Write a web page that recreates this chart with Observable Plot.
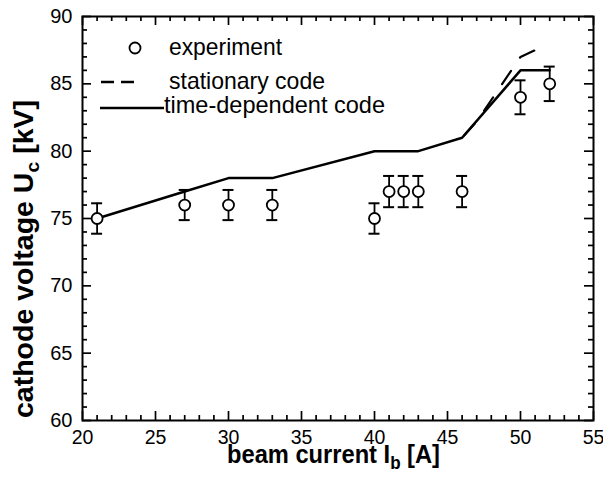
<!DOCTYPE html>
<html><head><meta charset="utf-8">
<script src="https://cdn.jsdelivr.net/npm/d3@7"></script>
<script src="https://cdn.jsdelivr.net/npm/@observablehq/plot@0.6"></script>
<style>
body{margin:0;background:#fff}
svg{font-family:"Liberation Sans",Arial,Helvetica,sans-serif}
</style>
</head><body><div id="chart"></div>
<script>
// experiment
const expCurrent = [21, 27, 30, 33, 40, 41, 42, 43, 46, 50, 52];
const expVoltage = [75, 76, 76, 76, 75, 77, 77, 77, 77, 84, 85];
const expError   = [1.13, 1.12, 1.12, 1.12, 1.13, 1.16, 1.16, 1.16, 1.16, 1.26, 1.28];
// time-dependent code
const timeCurrent = [21, 27, 30, 33, 40, 43, 46, 50, 52];
const timeVoltage = [75, 77, 78, 78, 80, 80, 81, 86, 86];
// stationary code
const statCurrent = [46, 47, 48, 50, 51];
const statVoltage = [81, 82.2, 83.8, 87, 87.5];
// axes
const xTicks = [20, 25, 30, 35, 40, 45, 50, 55];
const yTicks = [60, 65, 70, 75, 80, 85, 90];
const xMinor = [21, 22, 23, 24, 26, 27, 28, 29, 31, 32, 33, 34, 36, 37, 38, 39, 41, 42, 43, 44, 46, 47, 48, 49, 51, 52, 53, 54];
const yMinor = [61, 62, 63, 64, 66, 67, 68, 69, 71, 72, 73, 74, 76, 77, 78, 79, 81, 82, 83, 84, 86, 87, 88, 89];
const xLabel = ["beam current I", "b", " [A]"];
const yLabel = ["cathode voltage U", "c", " [kV]"];
const legendLabels = ["experiment", "stationary code", "time-dependent code"];

const exp = expCurrent.map((x, i) => ({x, y: expVoltage[i], e: expError[i]}));
const tdc = timeCurrent.map((x, i) => ({x, y: timeVoltage[i]}));
const stc = statCurrent.map((x, i) => ({x, y: statVoltage[i]}));

const W = 603, H = 488, mL = 82, mR = 10, mT = 16, mB = 68;
const iw = W - mL - mR, ih = H - mT - mB;
const xDom = [20, 55], yDom = [60, 90];
// tick lengths (pixels) expressed in data units of each scale
const kx = (xDom[1] - xDom[0]) / iw, ky = (yDom[1] - yDom[0]) / ih;
const MAJ = 9, MIN = 5;
const tickStyle = {stroke: "#000", strokeWidth: 1.7};

const chart = Plot.plot({
  width: W, height: H,
  marginLeft: mL, marginRight: mR, marginTop: mT, marginBottom: mB,
  x: {domain: xDom},
  y: {domain: yDom},
  style: {fontFamily: '"Liberation Sans",Arial,sans-serif', fontSize: "20px", color: "#000", background: "#fff"},
  marks: [
    Plot.axisX({ticks: xTicks, tickSize: 0, tickPadding: 10, label: null, fontSize: 19.5}),
    Plot.axisY({ticks: yTicks, tickSize: 0, tickPadding: 10, label: null, fontSize: 20}),
    // inward ticks on all four sides
    Plot.ruleX(xTicks, {x: d => d, y1: yDom[0], y2: yDom[0] + MAJ * ky, ...tickStyle}),
    Plot.ruleX(xTicks, {x: d => d, y1: yDom[1], y2: yDom[1] - MAJ * ky, ...tickStyle}),
    Plot.ruleX(xMinor, {x: d => d, y1: yDom[0], y2: yDom[0] + MIN * ky, ...tickStyle}),
    Plot.ruleX(xMinor, {x: d => d, y1: yDom[1], y2: yDom[1] - MIN * ky, ...tickStyle}),
    Plot.ruleY(yTicks, {y: d => d, x1: xDom[0], x2: xDom[0] + MAJ * kx, ...tickStyle}),
    Plot.ruleY(yTicks, {y: d => d, x1: xDom[1], x2: xDom[1] - MAJ * kx, ...tickStyle}),
    Plot.ruleY(yMinor, {y: d => d, x1: xDom[0], x2: xDom[0] + MIN * kx, ...tickStyle}),
    Plot.ruleY(yMinor, {y: d => d, x1: xDom[1], x2: xDom[1] - MIN * kx, ...tickStyle}),
    Plot.line(stc, {x: "x", y: "y", stroke: "#000", strokeWidth: 2.2, strokeDasharray: "16,16", strokeDashoffset: 29}),
    Plot.line(tdc, {x: "x", y: "y", stroke: "#000", strokeWidth: 2.5}),
    Plot.ruleX(exp, {x: "x", y1: d => d.y - d.e, y2: d => d.y + d.e, stroke: "#000", strokeWidth: 1.8}),
    Plot.ruleY(exp, {y: d => d.y + d.e, x1: "x", x2: "x", insetLeft: -5.5, insetRight: -5.5, stroke: "#000", strokeWidth: 2}),
    Plot.ruleY(exp, {y: d => d.y - d.e, x1: "x", x2: "x", insetLeft: -5.5, insetRight: -5.5, stroke: "#000", strokeWidth: 2}),
    Plot.dot(exp, {x: "x", y: "y", r: 5.5, fill: "#fff", stroke: "#000", strokeWidth: 1.8}),
    Plot.frame({stroke: "#000", strokeWidth: 2})
  ]
});
document.getElementById("chart").appendChild(chart);

const svg = d3.select(chart);

// axis titles
const xt = svg.append("text").attr("x", 333.5).attr("y", 463).attr("text-anchor", "middle")
  .attr("font-weight", "bold").attr("font-size", 25).attr("fill", "#000")
  .attr("textLength", 213).attr("lengthAdjust", "spacingAndGlyphs");
xt.append("tspan").text(xLabel[0]);
xt.append("tspan").attr("font-size", 18).attr("dy", 6).text(xLabel[1]);
xt.append("tspan").attr("dy", -6).text(xLabel[2]);

const yt = svg.append("text").attr("transform", "translate(33,259) rotate(-90)").attr("text-anchor", "middle")
  .attr("font-weight", "bold").attr("font-size", 28).attr("fill", "#000")
  .attr("textLength", 318).attr("lengthAdjust", "spacingAndGlyphs");
yt.append("tspan").text(yLabel[0]);
yt.append("tspan").attr("font-size", 19).attr("dy", 6).text(yLabel[1]);
yt.append("tspan").attr("dy", -6).text(yLabel[2]);

// legend
const lg = svg.append("g").attr("font-size", 24).attr("fill", "#000").attr("text-anchor", "start");
lg.append("circle").attr("cx", 135).attr("cy", 48).attr("r", 5.5).attr("fill", "#fff").attr("stroke", "#000").attr("stroke-width", 1.8);
lg.append("text").attr("x", 169).attr("y", 55).attr("textLength", 113).attr("lengthAdjust", "spacingAndGlyphs").text(legendLabels[0]);
lg.append("line").attr("x1", 101).attr("x2", 114).attr("y1", 82).attr("y2", 82).attr("stroke", "#000").attr("stroke-width", 2.5);
lg.append("line").attr("x1", 121).attr("x2", 134).attr("y1", 82).attr("y2", 82).attr("stroke", "#000").attr("stroke-width", 2.5);
lg.append("text").attr("x", 169).attr("y", 89).attr("textLength", 156).attr("lengthAdjust", "spacingAndGlyphs").text(legendLabels[1]);
lg.append("line").attr("x1", 100).attr("x2", 164).attr("y1", 108).attr("y2", 108).attr("stroke", "#000").attr("stroke-width", 2.5);
lg.append("text").attr("x", 164).attr("y", 113).attr("textLength", 221).attr("lengthAdjust", "spacingAndGlyphs").text(legendLabels[2]);
</script>
</body></html>
